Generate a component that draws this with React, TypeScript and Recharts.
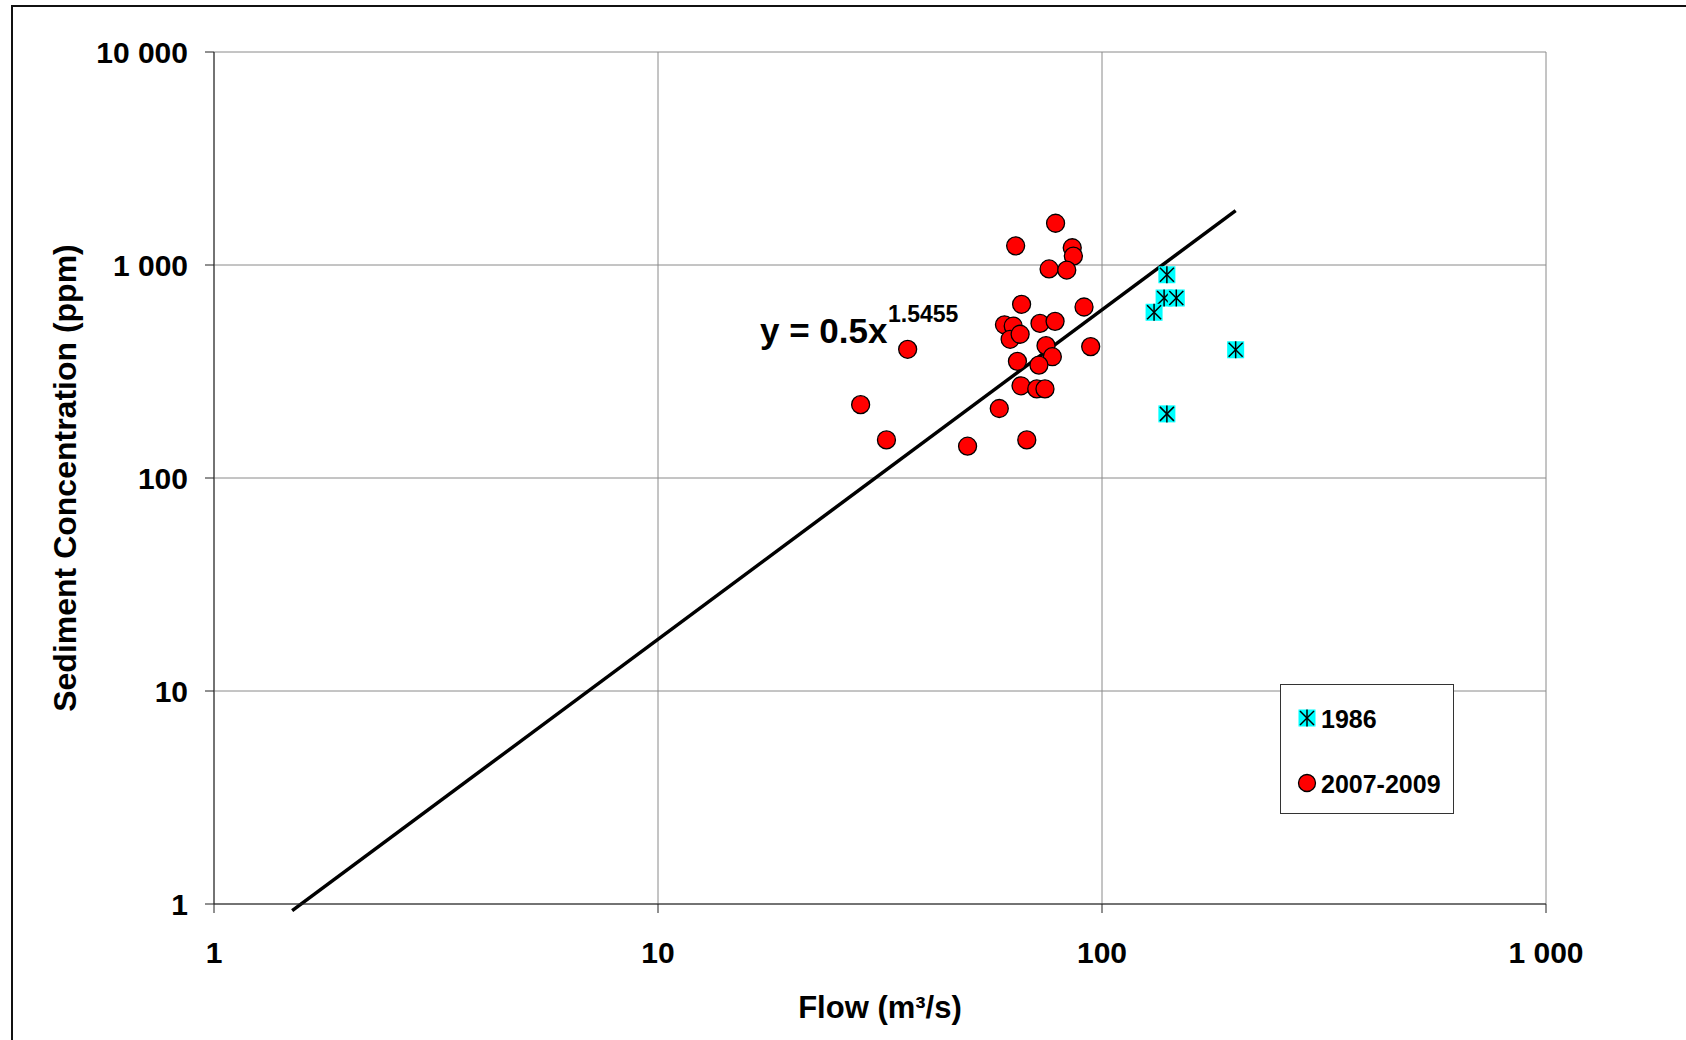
import React from 'react';
import { ScatterChart, Scatter, XAxis, YAxis, CartesianGrid, ReferenceLine, Legend } from 'recharts';

// 2007-2009 samples
const flow2007 = [78.6, 63.9, 85.7, 86.2, 76.0, 83.3, 65.9, 91.1, 60.3, 63.1, 72.5, 78.4, 62.1, 65.4, 74.8, 94.3, 36.5, 77.3, 64.5, 72.1, 65.7, 71.3, 74.4, 28.6, 58.7, 32.7, 49.8, 67.7];
const conc2007 = [1570, 1230, 1205, 1100, 958, 947, 654, 635, 524, 517, 532, 544, 448, 473, 418, 414, 402, 371, 353, 339, 271, 262, 262, 221, 212, 151, 141, 151];

// 1986 samples
const flow1986 = [140, 138, 147, 131, 200, 140];
const conc1986 = [900, 700, 700, 600, 400, 200];

// trend line ends, y = 0.5x^1.5455
const trendFlow = [1.5, 200];
const trendConc = [0.93, 1800];

const xTicks = [1, 10, 100, 1000];
const yTicks = [1, 10, 100, 1000, 10000];

const FONT = '"Liberation Sans", Arial, sans-serif';

const toPoints = (xs: number[], ys: number[]) => xs.map((x, i) => ({ x, y: ys[i] }));
const data2007 = toPoints(flow2007, conc2007);
const data1986 = toPoints(flow1986, conc1986);
const trend = toPoints(trendFlow, trendConc);

const fmt = (v: number) => String(v).replace(/\B(?=(\d{3})+(?!\d))/g, ' ');

function StarMark({ cx, cy }: { cx?: number; cy?: number }) {
  if (cx == null || cy == null) return null;
  const h = 8.5;
  return (
    <g>
      <rect x={cx - h} y={cy - h} width={2 * h} height={2 * h} fill="#00ffff" />
      <line x1={cx - h + 1.5} y1={cy - h + 1.5} x2={cx + h - 1.5} y2={cy + h - 1.5} stroke="#000" strokeWidth={1.5} />
      <line x1={cx + h - 1.5} y1={cy - h + 1.5} x2={cx - h + 1.5} y2={cy + h - 1.5} stroke="#000" strokeWidth={1.5} />
      <line x1={cx} y1={cy - h} x2={cx} y2={cy + h} stroke="#000" strokeWidth={1.5} />
    </g>
  );
}

function RedDot({ cx, cy }: { cx?: number; cy?: number }) {
  if (cx == null || cy == null) return null;
  return <circle cx={cx} cy={cy} r={9} fill="#ff0000" stroke="#000" strokeWidth={1.3} />;
}

function LegendBox() {
  const text: React.CSSProperties = {
    position: 'absolute',
    left: 40,
    lineHeight: 1,
    transform: 'translateY(-50%)',
    whiteSpace: 'nowrap',
  };
  return (
    <div
      style={{
        position: 'relative',
        width: 174,
        height: 130,
        boxSizing: 'border-box',
        border: '1.5px solid #333',
        background: '#fff',
        fontFamily: FONT,
        fontWeight: 700,
        fontSize: 25,
        color: '#000',
      }}
    >
      <svg width={174} height={130} style={{ position: 'absolute', left: -1.5, top: -1.5 }}>
        <StarMark cx={27} cy={34} />
        <circle cx={27} cy={99} r={8.5} fill="#ff0000" stroke="#000" strokeWidth={1.3} />
      </svg>
      <span style={{ ...text, top: 34 }}>1986</span>
      <span style={{ ...text, top: 99 }}>2007-2009</span>
    </div>
  );
}

export default function App() {
  const tick = { fill: '#000', fontSize: 30, fontWeight: 700, fontFamily: FONT };
  return (
    <div style={{ position: 'absolute', left: 0, top: 0, width: 1686, height: 1040, background: '#fff', overflow: 'hidden' }}>
      <div
        style={{
          position: 'absolute',
          left: 11,
          top: 5,
          width: 1675,
          height: 1035,
          borderLeft: '2px solid #111',
          borderTop: '2px solid #111',
        }}
      />
      <div style={{ position: 'absolute', left: 0, top: 0 }}>
        <ScatterChart width={1686} height={1040} margin={{ top: 52, right: 140, bottom: 76, left: 134 }}>
          <CartesianGrid stroke="#8a8a8a" strokeWidth={1} />
          <XAxis
            type="number"
            dataKey="x"
            scale="log"
            domain={[1, 1000]}
            ticks={xTicks}
            allowDataOverflow
            height={60}
            tick={tick}
            tickFormatter={fmt}
            tickSize={9}
            tickMargin={29}
            stroke="#222"
          />
          <YAxis
            type="number"
            dataKey="y"
            scale="log"
            domain={[1, 10000]}
            ticks={yTicks}
            allowDataOverflow
            width={80}
            tick={tick}
            tickFormatter={fmt}
            tickSize={9}
            tickMargin={17}
            stroke="#222"
          />
          <ReferenceLine
            segment={[trend[0], trend[1]]}
            stroke="#000"
            strokeWidth={3.5}
            ifOverflow="visible"
          />
          <Scatter name="1986" data={data1986} shape={<StarMark />} isAnimationActive={false} />
          <Scatter name="2007-2009" data={data2007} shape={<RedDot />} isAnimationActive={false} />
          <Legend
            layout="vertical"
            align="center"
            verticalAlign="middle"
            wrapperStyle={{ left: 1280, top: 684, width: 174, height: 130 }}
            content={() => <LegendBox />}
          />
        </ScatterChart>
      </div>
      <svg width={1686} height={1040} style={{ position: 'absolute', left: 0, top: 0, pointerEvents: 'none' }}>
        <text
          x={65}
          y={478}
          transform="rotate(-90 65 478)"
          textAnchor="middle"
          dominantBaseline="central"
          fontFamily={FONT}
          fontWeight={700}
          fontSize={32}
          fill="#000"
        >
          Sediment Concentration (ppm)
        </text>
        <text x={880} y={1007} textAnchor="middle" dominantBaseline="central" fontFamily={FONT} fontWeight={700} fontSize={31} fill="#000">
          Flow (m³/s)
        </text>
        <text x={760} y={343} fontFamily={FONT} fontWeight={700} fontSize={35} fill="#000">
          y = 0.5x
        </text>
        <text x={888} y={322} fontFamily={FONT} fontWeight={700} fontSize={23} fill="#000">
          1.5455
        </text>
      </svg>
    </div>
  );
}
